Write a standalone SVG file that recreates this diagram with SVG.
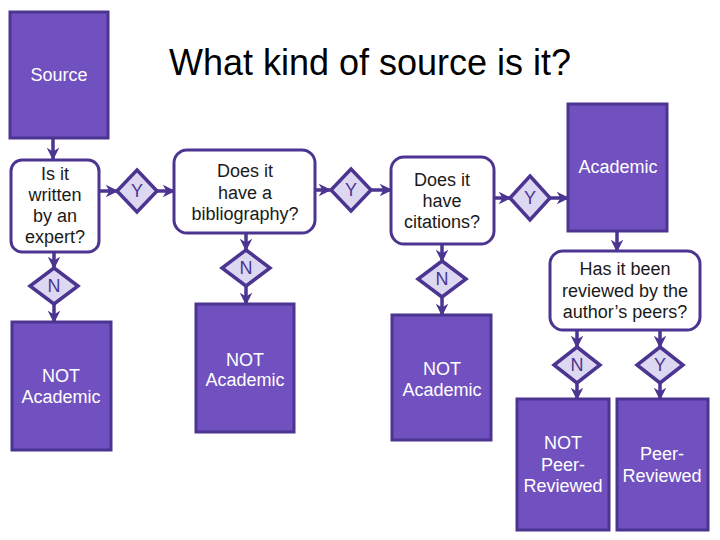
<svg xmlns="http://www.w3.org/2000/svg" width="720" height="540" viewBox="0 0 720 540">
<defs>
<style>
.term{fill:#7151C0;stroke:#4B3591;stroke-width:3}
.q{fill:#FFFFFF;stroke:#4B3591;stroke-width:3}
.dia{fill:#DDD8F2;stroke:#4B3591;stroke-width:3.5;stroke-linejoin:miter}
.tw{font-family:"Liberation Sans",Arial,sans-serif;font-size:18px;fill:#FFFFFF;text-anchor:middle}
.tb{font-family:"Liberation Sans",Arial,sans-serif;font-size:18px;fill:#1A1A1A;text-anchor:middle}
.td{font-family:"Liberation Sans",Arial,sans-serif;font-size:18px;fill:#4B3591;text-anchor:middle}
.title{font-family:"Liberation Sans",Arial,sans-serif;font-size:36px;fill:#000000;text-anchor:middle}
.con{fill:none;stroke:#4B3591;stroke-width:3.5}
</style>
<marker id="ah" viewBox="0 0 10 10" refX="9" refY="5" markerWidth="3.6" markerHeight="3.6" orient="auto" markerUnits="strokeWidth">
<path d="M0,0 L10,5 L0,10 L3,5 Z" fill="#4B3591"/>
</marker>
</defs>
<rect width="720" height="540" fill="#FFFFFF"/>
<text class="title" x="370" y="75">What kind of source is it?</text>

<g id="connectors">
<line class="con" x1="53" y1="138" x2="53" y2="159" marker-end="url(#ah)"/>
<line class="con" x1="99" y1="191" x2="117" y2="191" marker-end="url(#ah)"/>
<line class="con" x1="157" y1="191" x2="174" y2="191" marker-end="url(#ah)"/>
<line class="con" x1="54" y1="252" x2="54" y2="268" marker-end="url(#ah)"/>
<line class="con" x1="54" y1="304" x2="54" y2="322" marker-end="url(#ah)"/>
<line class="con" x1="246" y1="233" x2="246" y2="250" marker-end="url(#ah)"/>
<line class="con" x1="246" y1="286" x2="246" y2="304" marker-end="url(#ah)"/>
<line class="con" x1="315" y1="190" x2="330" y2="190" marker-end="url(#ah)"/>
<line class="con" x1="371" y1="190" x2="391" y2="190" marker-end="url(#ah)"/>
<line class="con" x1="494" y1="198" x2="510" y2="198" marker-end="url(#ah)"/>
<line class="con" x1="550" y1="198" x2="568" y2="198" marker-end="url(#ah)"/>
<line class="con" x1="442" y1="244" x2="442" y2="261" marker-end="url(#ah)"/>
<line class="con" x1="442" y1="297" x2="442" y2="315" marker-end="url(#ah)"/>
<line class="con" x1="617" y1="231" x2="617" y2="251" marker-end="url(#ah)"/>
<line class="con" x1="577" y1="330" x2="577" y2="347" marker-end="url(#ah)"/>
<line class="con" x1="577" y1="383" x2="577" y2="399" marker-end="url(#ah)"/>
<line class="con" x1="660" y1="330" x2="660" y2="347" marker-end="url(#ah)"/>
<line class="con" x1="660" y1="383" x2="660" y2="399" marker-end="url(#ah)"/>
</g>

<g id="source">
<rect class="term" x="10" y="12" width="98" height="126"/>
<text class="tw" x="59" y="81">Source</text>
</g>

<g id="q-expert">
<rect class="q" x="11" y="160" width="88" height="92" rx="11"/>
<text class="tb" x="55" y="180">Is it</text>
<text class="tb" x="55" y="201">written</text>
<text class="tb" x="55" y="222">by an</text>
<text class="tb" x="55" y="243">expert?</text>
</g>

<g id="d-y1">
<polygon class="dia" points="137,170 157,191 137,212 117,191"/>
<text class="td" x="137" y="197">Y</text>
</g>

<g id="d-n1">
<polygon class="dia" points="54,268 78,286 54,304 30,286"/>
<text class="td" x="54" y="292">N</text>
</g>

<g id="not-academic-1">
<rect class="term" x="12" y="322" width="99" height="128"/>
<text class="tw" x="61" y="382">NOT</text>
<text class="tw" x="61" y="403">Academic</text>
</g>

<g id="q-bibliography">
<rect class="q" x="174" y="150" width="141" height="83" rx="13"/>
<text class="tb" x="245" y="177">Does it</text>
<text class="tb" x="245" y="199">have a</text>
<text class="tb" x="245" y="220">bibliography?</text>
</g>

<g id="d-n2">
<polygon class="dia" points="246,250 270,268 246,286 222,268"/>
<text class="td" x="246" y="274">N</text>
</g>

<g id="not-academic-2">
<rect class="term" x="196" y="304" width="98" height="128"/>
<text class="tw" x="245" y="366">NOT</text>
<text class="tw" x="245" y="386">Academic</text>
</g>

<g id="d-y2">
<polygon class="dia" points="351,169 371,190 351,211 331,190"/>
<text class="td" x="351" y="196">Y</text>
</g>

<g id="q-citations">
<rect class="q" x="391" y="157" width="103" height="87" rx="13"/>
<text class="tb" x="442" y="186">Does it</text>
<text class="tb" x="442" y="207">have</text>
<text class="tb" x="442" y="228">citations?</text>
</g>

<g id="d-n3">
<polygon class="dia" points="442,261 466,279 442,297 418,279"/>
<text class="td" x="442" y="285">N</text>
</g>

<g id="not-academic-3">
<rect class="term" x="392" y="315" width="99" height="125"/>
<text class="tw" x="442" y="375">NOT</text>
<text class="tw" x="442" y="396">Academic</text>
</g>

<g id="d-y3">
<polygon class="dia" points="530,176 550,198 530,220 510,198"/>
<text class="td" x="530" y="204">Y</text>
</g>

<g id="academic">
<rect class="term" x="568" y="104" width="99" height="127"/>
<text class="tw" x="618" y="173">Academic</text>
</g>

<g id="q-peers">
<rect class="q" x="550" y="251" width="150" height="79" rx="13"/>
<text class="tb" x="625" y="275">Has it been</text>
<text class="tb" x="625" y="297">reviewed by the</text>
<text class="tb" x="625" y="318">author’s peers?</text>
</g>

<g id="d-n4">
<polygon class="dia" points="577,347 600,365 577,383 554,365"/>
<text class="td" x="577" y="371">N</text>
</g>

<g id="d-y4">
<polygon class="dia" points="660,347 683,365 660,383 637,365"/>
<text class="td" x="660" y="371">Y</text>
</g>

<g id="not-peer-reviewed">
<rect class="term" x="517" y="399" width="92" height="131"/>
<text class="tw" x="563" y="449">NOT</text>
<text class="tw" x="563" y="471">Peer-</text>
<text class="tw" x="563" y="492">Reviewed</text>
</g>

<g id="peer-reviewed">
<rect class="term" x="617" y="399" width="91" height="131"/>
<text class="tw" x="662" y="460">Peer-</text>
<text class="tw" x="662" y="482">Reviewed</text>
</g>
</svg>
